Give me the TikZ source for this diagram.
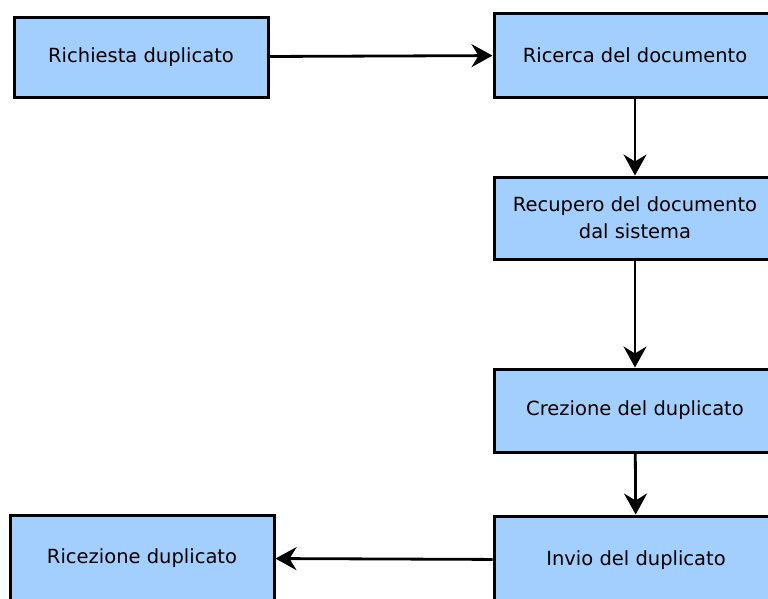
\documentclass[tikz,border=0pt]{standalone}
\usepackage{fontspec}
\setmainfont{DejaVu Sans}
\usetikzlibrary{arrows.meta}
\definecolor{boxblue}{RGB}{163,207,254}

\begin{document}
\begin{tikzpicture}[->, >={Stealth[length=21pt, width=23pt, inset=7pt]}, x=1pt, y=-1pt, line width=2.8pt]
 % Define block styles
	\tikzstyle{block} = [rectangle, draw, fill=boxblue, line width=3pt, text centered, align=center, font=\fontsize{19.5}{27}\selectfont, inner sep=0pt]
	\useasboundingbox (0,0) rectangle (768,598);
	\clip (0,0) rectangle (768,598);
%%====Definizione stati e posizione===============================================================
	\node	[block, minimum width=254pt, minimum height=80pt]	(richiesta)	at (141,57)	{Richiesta duplicato};
	\node	[block, minimum width=282pt, minimum height=84pt]	(ricerca)	at (635,55)	{Ricerca del documento};
	\node	[block, minimum width=282pt, minimum height=82pt]	(recupero)	at (635,218)	{Recupero del documento\\dal sistema};
	\node	[block, minimum width=282pt, minimum height=83pt]	(crezione)	at (635,410.5)	{Crezione del duplicato};
	\node	[block, minimum width=284pt, minimum height=88pt]	(invio)		at (636,560)	{Invio del duplicato};
	\node	[block, minimum width=264pt, minimum height=86pt]	(ricezione)	at (142,558)	{Ricezione duplicato};
%%====Archi=======================================================================================
	\draw (richiesta) -- (ricerca);
	\draw (ricerca) -- (recupero);
	\draw (recupero) -- (crezione);
	\draw (crezione) -- (invio);
	\draw (invio) -- (ricezione);
\end{tikzpicture}
\end{document}
